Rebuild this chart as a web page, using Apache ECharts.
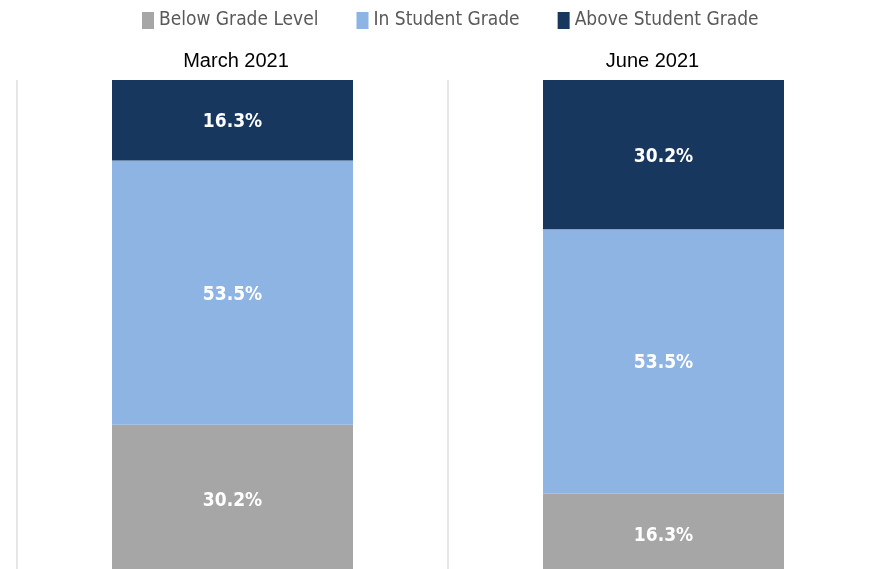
<!DOCTYPE html>
<html>
<head>
<meta charset="utf-8">
<script src="https://cdn.jsdelivr.net/npm/echarts@6/dist/echarts.min.js"></script>
<style>
    html, body { margin: 0; padding: 0; background: #fff; }
    #main { width: 875px; height: 569px; }
</style>
</head>
<body>
<div id="main"></div>
<script>
    //数据
    var categories = ["March 2021", "June 2021"];
    var seriesNames = ["Below Grade Level", "In Student Grade", "Above Student Grade"];
    var belowGrade = [30.2, 16.3];
    var inGrade = [53.5, 53.5];
    var aboveGrade = [16.3, 30.2];
    var colors = ["#a6a6a6", "#8eb4e3", "#17375e"];

    var narrow = '"DejaVu Sans Condensed", "DejaVu Sans", sans-serif';

    function makeSeries(name, data, color) {
        return {
            name: name,
            type: 'bar',
            stack: 'total',
            barWidth: 241,
            data: data,
            itemStyle: { color: color },
            label: {
                show: true,
                position: 'inside',
                offset: [0, 2],
                color: '#fff',
                fontFamily: narrow,
                fontWeight: 'bold',
                fontSize: 19,
                formatter: '{c}%'
            }
        };
    }

    //标题位置微调
    var axisData = [
        { value: categories[0], textStyle: { padding: [0, 0, 0, 7] } },
        { value: categories[1], textStyle: { padding: [0, 22, 0, 0] } }
    ];

    var chart = echarts.init(document.getElementById('main'));
    var option = {
        animation: false,
        color: colors,
        legend: {
            top: 6,
            left: 137,
            icon: 'rect',
            itemWidth: 12,
            itemHeight: 17,
            itemGap: 38,
            textStyle: { color: '#595959', fontFamily: narrow, fontSize: 19 },
            data: seriesNames
        },
        grid: { left: 17, width: 862, top: 80, height: 494, outerBoundsMode: 'none' },
        xAxis: {
            type: 'category',
            position: 'top',
            data: axisData,
            axisLine: { show: false },
            axisTick: { show: false },
            axisLabel: { color: '#000', fontFamily: 'Liberation Sans, Arial, sans-serif', fontSize: 20, margin: 9 },
            splitLine: { show: true, lineStyle: { color: '#dedede', width: 1.5 } }
        },
        yAxis: {
            type: 'value',
            min: 0,
            max: 100,
            show: false
        },
        series: [
            makeSeries(seriesNames[0], belowGrade, colors[0]),
            makeSeries(seriesNames[1], inGrade, colors[1]),
            makeSeries(seriesNames[2], aboveGrade, colors[2])
        ]
    };
    chart.setOption(option);
</script>
</body>
</html>
